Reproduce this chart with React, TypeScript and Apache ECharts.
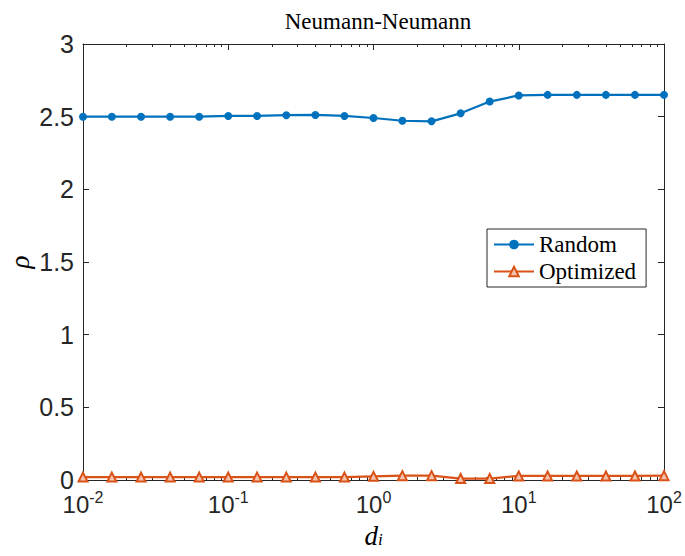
import React, { useEffect, useRef } from "react";
import * as echarts from "echarts";

const xValues = [0.01, 0.0158, 0.0251, 0.0398, 0.0631, 0.1, 0.158, 0.251, 0.398, 0.631, 1, 1.58, 2.51, 3.98, 6.31, 10, 15.8, 25.1, 39.8, 63.1, 100];
const randomValues = [2.5, 2.5, 2.5, 2.5, 2.5, 2.505, 2.505, 2.51, 2.512, 2.505, 2.491, 2.472, 2.468, 2.523, 2.604, 2.646, 2.65, 2.65, 2.65, 2.65, 2.65];
const optimizedValues = [0.02, 0.02, 0.02, 0.02, 0.02, 0.02, 0.02, 0.02, 0.02, 0.02, 0.025, 0.03, 0.03, 0.01, 0.01, 0.028, 0.028, 0.028, 0.028, 0.028, 0.03];
const majorTicks = [0.01, 0.1, 1, 10, 100];
const minorTicks = [
  0.02, 0.03, 0.04, 0.05, 0.06, 0.07, 0.08, 0.09,
  0.2, 0.3, 0.4, 0.5, 0.6, 0.7, 0.8, 0.9,
  2, 3, 4, 5, 6, 7, 8, 9,
  20, 30, 40, 50, 60, 70, 80, 90,
];
const yTicks = [0, 0.5, 1, 1.5, 2, 2.5, 3];

const AXIS = "#262626";
const SANS = "'Liberation Sans', Arial, sans-serif";
const SERIF = "'Liberation Serif', 'Times New Roman', serif";

export default function App() {
  const ref = useRef<HTMLDivElement>(null);
  useEffect(() => {
    if (!ref.current) return;
    const chart = echarts.init(ref.current, undefined, { renderer: "svg" });
    const logBase = (extra: any) => ({
      type: "log",
      logBase: 10,
      min: 0.01,
      max: 100,
      axisLine: { show: false },
      splitLine: { show: false },
      axisLabel: { show: false },
      ...extra,
    });
    chart.setOption({
      animation: false,
      backgroundColor: "#fff",
      title: {
        text: "Neumann-Neumann",
        left: 373,
        textAlign: "center",
        top: 5,
        textStyle: { fontFamily: SERIF, fontSize: 23, fontWeight: "normal", color: "#000" },
      },
      grid: { left: 83, top: 44, width: 581, height: 436, containLabel: false, outerBoundsMode: "none" },
      legend: {
        left: 487,
        top: 229,
        orient: "vertical",
        backgroundColor: "#fff",
        borderColor: AXIS,
        borderWidth: 1,
        padding: [4, 10, 4, 6],
        itemGap: 4,
        itemWidth: 40,
        itemHeight: 12,
        textStyle: { fontFamily: SERIF, fontSize: 23, color: "#000" },
        data: ["Random", "Optimized"],
      },
      xAxis: [
        logBase({
          position: "bottom",
          axisLine: { show: true, lineStyle: { color: AXIS, width: 1 } },
          axisTick: { show: true, inside: true, length: 6, customValues: majorTicks, lineStyle: { color: AXIS } },
          axisLabel: {
            show: true,
            customValues: majorTicks,
            margin: 9,
            formatter: (v: number) => `{b|10}{s|${Math.round(Math.log10(v))}}`,
            rich: {
              b: { fontFamily: SANS, fontSize: 24, color: AXIS },
              s: { fontFamily: SANS, fontSize: 16, color: AXIS, padding: [0, 0, 15, 0] },
            },
          },
          name: "{d|d}{i|i}",
          nameLocation: "middle",
          nameGap: 42,
          nameTextStyle: {
            rich: {
              d: { fontFamily: SERIF, fontStyle: "italic", fontSize: 27, color: "#000" },
              i: { fontFamily: SERIF, fontStyle: "italic", fontSize: 17, color: "#000", padding: [8, 0, 0, 0] },
            },
          },
        }),
        logBase({
          position: "bottom",
          axisTick: { show: true, inside: true, length: 3, customValues: minorTicks, lineStyle: { color: AXIS } },
        }),
        logBase({
          position: "top",
          axisLine: { show: true, lineStyle: { color: AXIS, width: 1 } },
          axisTick: { show: true, inside: true, length: 6, customValues: majorTicks, lineStyle: { color: AXIS } },
        }),
        logBase({
          position: "top",
          axisTick: { show: true, inside: true, length: 3, customValues: minorTicks, lineStyle: { color: AXIS } },
        }),
      ],
      yAxis: [
        {
          type: "value",
          min: 0,
          max: 3,
          interval: 0.5,
          position: "left",
          axisLine: { show: true, lineStyle: { color: AXIS, width: 1 } },
          axisTick: { show: true, inside: true, length: 6, lineStyle: { color: AXIS } },
          splitLine: { show: false },
          axisLabel: {
            margin: 9,
            fontFamily: SANS,
            fontSize: 25,
            color: AXIS,
            customValues: yTicks,
            formatter: (v: number) => String(v),
          },
          name: "ρ",
          nameLocation: "middle",
          nameGap: 50,
          nameMoveOverlap: false,
          nameRotate: 90,
          nameTextStyle: { fontFamily: SERIF, fontStyle: "italic", fontSize: 27, color: "#000" },
        },
        {
          type: "value",
          min: 0,
          max: 3,
          interval: 0.5,
          position: "right",
          axisLine: { show: true, lineStyle: { color: AXIS, width: 1 } },
          axisTick: { show: true, inside: true, length: 6, lineStyle: { color: AXIS } },
          splitLine: { show: false },
          axisLabel: { show: false },
        },
      ],
      series: [
        {
          name: "Random",
          type: "line",
          xAxisIndex: 0,
          yAxisIndex: 0,
          data: xValues.map((x, i) => [x, randomValues[i]]),
          symbol: "circle",
          symbolSize: 8,
          lineStyle: { color: "#0072BD", width: 2.2 },
          itemStyle: { color: "#0072BD" },
        },
        {
          name: "Optimized",
          type: "line",
          xAxisIndex: 0,
          yAxisIndex: 0,
          data: xValues.map((x, i) => [x, optimizedValues[i]]),
          symbol: "triangle",
          symbolSize: 9,
          lineStyle: { color: "#D95319", width: 2.2 },
          itemStyle: { color: "#F2C4AE", borderColor: "#D95319", borderWidth: 2 },
        },
      ],
    });
    return () => chart.dispose();
  }, []);
  return <div ref={ref} style={{ position: "fixed", left: 0, top: 0, width: 685, height: 556 }} />;
}
